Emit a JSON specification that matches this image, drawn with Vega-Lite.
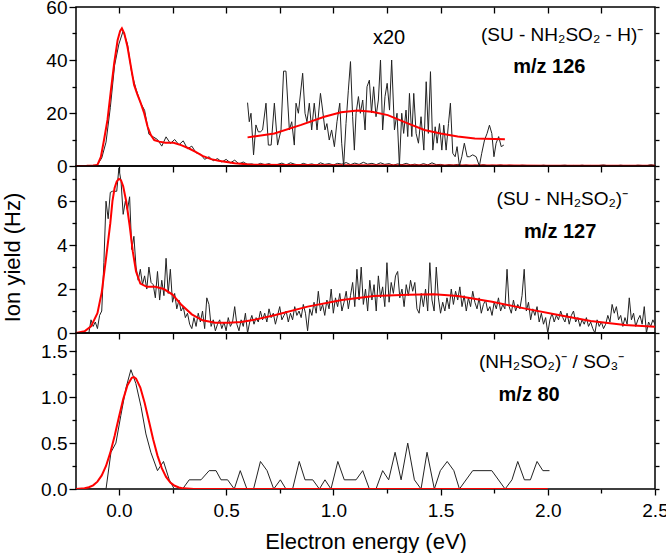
{
"$schema":"https://vega.github.io/schema/vega-lite/v6.json",
"padding":{"left":0,"top":-3,"right":0,"bottom":0},
"spacing":0,
"bounds":"flush",
"config":{"font":"Liberation Sans","view":{"stroke":"#000","strokeWidth":1.5},"axis":{"domain":false,"grid":false,"tickColor":"#000","tickWidth":1.3,"labelColor":"#000","labelFont":"Liberation Sans","labelFlush":false,"labelOverlap":false,"titleFont":"Liberation Sans","titleFontWeight":"normal","titleColor":"#000"}},
"datasets":{
"p1black":[{"e":-0.2,"v":0},{"e":-0.18,"v":0},{"e":-0.16,"v":0},{"e":-0.14,"v":0},{"e":-0.12,"v":0},{"e":-0.1,"v":0.5},{"e":-0.08,"v":3},{"e":-0.06,"v":9},{"e":-0.04,"v":22},{"e":-0.02,"v":38},{"e":0,"v":46},{"e":0.02,"v":51},{"e":0.04,"v":46},{"e":0.06,"v":35},{"e":0.08,"v":29},{"e":0.1,"v":24},{"e":0.12,"v":21},{"e":0.14,"v":12},{"e":0.16,"v":11},{"e":0.18,"v":10},{"e":0.2,"v":7.5},{"e":0.22,"v":11},{"e":0.24,"v":8.5},{"e":0.26,"v":10},{"e":0.28,"v":8},{"e":0.3,"v":9.5},{"e":0.32,"v":6.5},{"e":0.34,"v":7.5},{"e":0.36,"v":5},{"e":0.38,"v":4.5},{"e":0.4,"v":2.5},{"e":0.42,"v":3.5},{"e":0.44,"v":2},{"e":0.46,"v":2.8},{"e":0.48,"v":1.5},{"e":0.5,"v":2.5},{"e":0.52,"v":1.2},{"e":0.54,"v":2.2},{"e":0.56,"v":0.8},{"e":0.58,"v":1.5},{"e":0.6,"v":0.6},{"e":0.62,"v":0.8},{"e":0.64,"v":0.3},{"e":0.66,"v":1.0},{"e":0.68,"v":0.5},{"e":0.7,"v":0.9},{"e":0.72,"v":0.2},{"e":0.74,"v":0.6},{"e":0.76,"v":1.1},{"e":0.78,"v":0.4},{"e":0.8,"v":1.2},{"e":0.82,"v":0.7},{"e":0.84,"v":0.3},{"e":0.86,"v":1.0},{"e":0.88,"v":0.5},{"e":0.9,"v":0.8},{"e":0.92,"v":0.3},{"e":0.94,"v":1.2},{"e":0.96,"v":0.6},{"e":0.98,"v":0.9},{"e":1.0,"v":0.4},{"e":1.02,"v":1.0},{"e":1.04,"v":0.7},{"e":1.06,"v":1.3},{"e":1.08,"v":0.5},{"e":1.1,"v":1.1},{"e":1.12,"v":0.6},{"e":1.14,"v":1.4},{"e":1.16,"v":0.7},{"e":1.18,"v":1.0},{"e":1.2,"v":0.5},{"e":1.22,"v":1.2},{"e":1.24,"v":0.6},{"e":1.26,"v":0.9},{"e":1.28,"v":0.3},{"e":1.3,"v":0.8},{"e":1.32,"v":0.5},{"e":1.34,"v":1.0},{"e":1.36,"v":0.4},{"e":1.38,"v":0.7},{"e":1.4,"v":0.3},{"e":1.42,"v":0.9},{"e":1.44,"v":0.4},{"e":1.46,"v":1.2},{"e":1.48,"v":0.5},{"e":1.5,"v":0.6},{"e":1.52,"v":0.2},{"e":1.54,"v":0.5},{"e":1.56,"v":0.3},{"e":1.58,"v":0.6},{"e":1.6,"v":0.2},{"e":1.62,"v":0.4},{"e":1.64,"v":0.1},{"e":1.66,"v":0.3},{"e":1.68,"v":0.2},{"e":1.7,"v":0.5},{"e":1.72,"v":0.1},{"e":1.74,"v":0.3},{"e":1.76,"v":0.2},{"e":1.78,"v":0.4},{"e":1.8,"v":0.1},{"e":1.82,"v":0.3},{"e":1.84,"v":0.2},{"e":1.86,"v":0.1},{"e":1.88,"v":0.3},{"e":1.9,"v":0.2},{"e":1.92,"v":0.1},{"e":1.94,"v":0.2},{"e":1.96,"v":0.1},{"e":1.98,"v":0.3},{"e":2.0,"v":0.1},{"e":2.02,"v":0.2},{"e":2.04,"v":0.1},{"e":2.06,"v":0.2},{"e":2.08,"v":0.3},{"e":2.1,"v":0.1},{"e":2.12,"v":0.2},{"e":2.14,"v":0.1},{"e":2.16,"v":0.3},{"e":2.18,"v":0.1},{"e":2.2,"v":0.2},{"e":2.22,"v":0.1},{"e":2.24,"v":0.2},{"e":2.26,"v":0.4},{"e":2.28,"v":0.1},{"e":2.3,"v":0.2},{"e":2.32,"v":0.1},{"e":2.34,"v":0.3},{"e":2.36,"v":0.1},{"e":2.38,"v":0.2},{"e":2.4,"v":0.1},{"e":2.42,"v":0.3},{"e":2.44,"v":0.2},{"e":2.46,"v":0.1},{"e":2.48,"v":0.5},{"e":2.5,"v":0.2}],
"p1fit":[{"e":-0.2,"v":0},{"e":-0.15,"v":0.05},{"e":-0.12,"v":0.15},{"e":-0.1,"v":0.4},{"e":-0.084,"v":3.4},{"e":-0.069,"v":10},{"e":-0.053,"v":17.5},{"e":-0.037,"v":28.7},{"e":-0.022,"v":38.7},{"e":-0.006,"v":47.5},{"e":0.006,"v":51},{"e":0.014,"v":52},{"e":0.025,"v":50.1},{"e":0.04,"v":45},{"e":0.056,"v":37.5},{"e":0.071,"v":30.6},{"e":0.087,"v":26.8},{"e":0.102,"v":23.7},{"e":0.118,"v":19.9},{"e":0.134,"v":14.8},{"e":0.149,"v":11.7},{"e":0.165,"v":9.8},{"e":0.188,"v":9.2},{"e":0.216,"v":8.8},{"e":0.255,"v":8.8},{"e":0.29,"v":7.9},{"e":0.325,"v":6.7},{"e":0.36,"v":5.2},{"e":0.39,"v":3.8},{"e":0.43,"v":2.6},{"e":0.465,"v":2.0},{"e":0.54,"v":1.0},{"e":0.62,"v":0.5},{"e":0.8,"v":0.35},{"e":1.0,"v":0.3},{"e":1.5,"v":0.2},{"e":2.0,"v":0.12},{"e":2.5,"v":0.08}],
"p1x20":[{"e":0.6,"v":23.9},{"e":0.608,"v":16.7},{"e":0.616,"v":19.9},{"e":0.628,"v":4.2},{"e":0.639,"v":15.5},{"e":0.65,"v":12.9},{"e":0.66,"v":12.9},{"e":0.67,"v":13.6},{"e":0.686,"v":23.7},{"e":0.697,"v":7.9},{"e":0.71,"v":7.9},{"e":0.725,"v":23.7},{"e":0.74,"v":7.9},{"e":0.756,"v":13.6},{"e":0.768,"v":35.8},{"e":0.779,"v":35.8},{"e":0.795,"v":13.6},{"e":0.806,"v":16.7},{"e":0.818,"v":7.9},{"e":0.826,"v":23.7},{"e":0.837,"v":19.9},{"e":0.857,"v":35},{"e":0.868,"v":19.9},{"e":0.877,"v":16.7},{"e":0.888,"v":23.7},{"e":0.899,"v":13.6},{"e":0.911,"v":23.7},{"e":0.924,"v":13.6},{"e":0.94,"v":27.4},{"e":0.95,"v":21.1},{"e":0.961,"v":13.6},{"e":0.97,"v":16},{"e":0.981,"v":9.8},{"e":0.992,"v":13.6},{"e":1.005,"v":7.3},{"e":1.017,"v":16.7},{"e":1.03,"v":23.7},{"e":1.039,"v":8.6},{"e":1.048,"v":0},{"e":1.059,"v":16},{"e":1.07,"v":28.6},{"e":1.08,"v":39.4},{"e":1.09,"v":18.6},{"e":1.098,"v":6},{"e":1.106,"v":19.9},{"e":1.117,"v":26.2},{"e":1.126,"v":19.9},{"e":1.137,"v":24.9},{"e":1.148,"v":13.6},{"e":1.157,"v":29.9},{"e":1.168,"v":32.4},{"e":1.178,"v":20},{"e":1.188,"v":29.9},{"e":1.199,"v":18.6},{"e":1.21,"v":24.9},{"e":1.22,"v":40},{"e":1.23,"v":13.6},{"e":1.241,"v":26.2},{"e":1.251,"v":31.2},{"e":1.262,"v":21.1},{"e":1.272,"v":40},{"e":1.285,"v":13.6},{"e":1.297,"v":19.9},{"e":1.308,"v":0},{"e":1.319,"v":19.9},{"e":1.328,"v":12.3},{"e":1.339,"v":21.1},{"e":1.347,"v":11.1},{"e":1.355,"v":27.4},{"e":1.366,"v":11.1},{"e":1.375,"v":27.4},{"e":1.386,"v":12.3},{"e":1.397,"v":8.6},{"e":1.409,"v":18.6},{"e":1.422,"v":6},{"e":1.433,"v":31.8},{"e":1.443,"v":12.3},{"e":1.453,"v":35.6},{"e":1.464,"v":6},{"e":1.475,"v":14.8},{"e":1.484,"v":8.6},{"e":1.495,"v":16},{"e":1.506,"v":6},{"e":1.515,"v":15.4},{"e":1.526,"v":6},{"e":1.537,"v":16},{"e":1.546,"v":23.7},{"e":1.557,"v":4.8},{"e":1.568,"v":3.5},{"e":1.577,"v":7.3},{"e":1.588,"v":0},{"e":1.599,"v":3.5},{"e":1.611,"v":8.6},{"e":1.624,"v":3.5},{"e":1.635,"v":3.5},{"e":1.65,"v":4.2},{"e":1.666,"v":3.5},{"e":1.681,"v":0},{"e":1.692,"v":4.8},{"e":1.705,"v":9.8},{"e":1.717,"v":12.3},{"e":1.728,"v":15.4},{"e":1.739,"v":12.3},{"e":1.749,"v":3.5},{"e":1.759,"v":8.6},{"e":1.771,"v":11.1},{"e":1.783,"v":7.3},{"e":1.795,"v":7.9}],
"p1x20fit":[{"e":0.6,"v":10.8},{"e":0.725,"v":12.3},{"e":0.85,"v":15.5},{"e":0.958,"v":18.6},{"e":1.036,"v":20.3},{"e":1.113,"v":20.9},{"e":1.18,"v":20.5},{"e":1.254,"v":19.2},{"e":1.347,"v":16.1},{"e":1.425,"v":13.6},{"e":1.5,"v":12.3},{"e":1.58,"v":11.1},{"e":1.66,"v":10.4},{"e":1.8,"v":10.1}],
"p2black":[{"e":-0.2,"v":0},{"e":-0.19,"v":0},{"e":-0.18,"v":0},{"e":-0.17,"v":0},{"e":-0.16,"v":0},{"e":-0.15,"v":0},{"e":-0.14,"v":0},{"e":-0.13,"v":0.6},{"e":-0.12,"v":0.3},{"e":-0.11,"v":0.5},{"e":-0.1,"v":0.2},{"e":-0.09,"v":0.8},{"e":-0.08,"v":1.0},{"e":-0.07,"v":3.2},{"e":-0.06,"v":6.0},{"e":-0.05,"v":5.2},{"e":-0.04,"v":6.4},{"e":-0.03,"v":6.45},{"e":-0.02,"v":6.45},{"e":-0.01,"v":6.45},{"e":0,"v":7.5},{"e":0.01,"v":6.9},{"e":0.02,"v":5.4},{"e":0.03,"v":6.0},{"e":0.04,"v":5.6},{"e":0.05,"v":6.2},{"e":0.06,"v":3.8},{"e":0.07,"v":4.4},{"e":0.08,"v":3.0},{"e":0.09,"v":2.4},{"e":0.1,"v":2.9},{"e":0.11,"v":2.2},{"e":0.12,"v":2.6},{"e":0.13,"v":2.0},{"e":0.14,"v":3.0},{"e":0.15,"v":2.3},{"e":0.16,"v":2.2},{"e":0.17,"v":1.6},{"e":0.18,"v":2.8},{"e":0.19,"v":1.5},{"e":0.2,"v":2.4},{"e":0.21,"v":1.7},{"e":0.22,"v":3.4},{"e":0.23,"v":1.8},{"e":0.24,"v":2.9},{"e":0.25,"v":1.4},{"e":0.26,"v":1.8},{"e":0.27,"v":1.1},{"e":0.28,"v":1.5},{"e":0.29,"v":1.0},{"e":0.3,"v":1.2},{"e":0.31,"v":0.7},{"e":0.32,"v":0.9},{"e":0.33,"v":0.4},{"e":0.34,"v":0.2},{"e":0.35,"v":0.7},{"e":0.36,"v":0.3},{"e":0.37,"v":0.9},{"e":0.38,"v":0.5},{"e":0.39,"v":1.0},{"e":0.4,"v":0.2},{"e":0.41,"v":1.6},{"e":0.42,"v":1.3},{"e":0.43,"v":0.3},{"e":0.44,"v":0.6},{"e":0.45,"v":0.1},{"e":0.46,"v":0.4},{"e":0.47,"v":0.6},{"e":0.48,"v":0.2},{"e":0.49,"v":0.5},{"e":0.5,"v":0.1},{"e":0.51,"v":0.7},{"e":0.52,"v":0.3},{"e":0.53,"v":0.5},{"e":0.54,"v":1.2},{"e":0.55,"v":0.4},{"e":0.56,"v":0.1},{"e":0.57,"v":0.6},{"e":0.58,"v":0.3},{"e":0.59,"v":0.9},{"e":0.6,"v":0},{"e":0.61,"v":0.5},{"e":0.62,"v":0.8},{"e":0.63,"v":0.4},{"e":0.64,"v":0.7},{"e":0.65,"v":0.5},{"e":0.66,"v":1.0},{"e":0.67,"v":0.6},{"e":0.68,"v":0.9},{"e":0.69,"v":0.5},{"e":0.7,"v":1.1},{"e":0.71,"v":0.7},{"e":0.72,"v":0.9},{"e":0.73,"v":0.4},{"e":0.74,"v":0.8},{"e":0.75,"v":1.2},{"e":0.76,"v":0.6},{"e":0.77,"v":0.8},{"e":0.78,"v":1.0},{"e":0.79,"v":0.5},{"e":0.8,"v":0.9},{"e":0.81,"v":0.6},{"e":0.82,"v":1.2},{"e":0.83,"v":0.8},{"e":0.84,"v":1.0},{"e":0.85,"v":0.7},{"e":0.86,"v":1.3},{"e":0.87,"v":0.9},{"e":0.88,"v":0.1},{"e":0.89,"v":1.1},{"e":0.9,"v":0.8},{"e":0.91,"v":1.4},{"e":0.92,"v":0.9},{"e":0.93,"v":1.9},{"e":0.94,"v":1.0},{"e":0.95,"v":1.3},{"e":0.96,"v":0.8},{"e":0.97,"v":1.5},{"e":0.98,"v":1.1},{"e":0.99,"v":2.0},{"e":1.0,"v":0.9},{"e":1.01,"v":1.6},{"e":1.02,"v":1.2},{"e":1.03,"v":1.8},{"e":1.04,"v":1.0},{"e":1.05,"v":1.4},{"e":1.06,"v":1.9},{"e":1.07,"v":1.1},{"e":1.08,"v":1.7},{"e":1.09,"v":2.3},{"e":1.1,"v":1.2},{"e":1.11,"v":2.9},{"e":1.12,"v":1.5},{"e":1.13,"v":3.0},{"e":1.14,"v":1.3},{"e":1.15,"v":2.0},{"e":1.16,"v":1.0},{"e":1.17,"v":2.4},{"e":1.18,"v":1.5},{"e":1.19,"v":2.2},{"e":1.2,"v":1.0},{"e":1.21,"v":2.6},{"e":1.22,"v":1.6},{"e":1.23,"v":2.1},{"e":1.24,"v":1.2},{"e":1.25,"v":3.2},{"e":1.26,"v":1.4},{"e":1.27,"v":2.3},{"e":1.28,"v":1.8},{"e":1.29,"v":2.6},{"e":1.3,"v":2.8},{"e":1.31,"v":1.6},{"e":1.32,"v":2.0},{"e":1.33,"v":1.2},{"e":1.34,"v":2.2},{"e":1.35,"v":1.7},{"e":1.36,"v":2.4},{"e":1.37,"v":1.9},{"e":1.38,"v":2.3},{"e":1.39,"v":1.1},{"e":1.4,"v":0.9},{"e":1.41,"v":1.8},{"e":1.42,"v":1.2},{"e":1.43,"v":2.0},{"e":1.44,"v":1.0},{"e":1.45,"v":3.2},{"e":1.46,"v":1.5},{"e":1.47,"v":1.0},{"e":1.48,"v":3.0},{"e":1.49,"v":1.6},{"e":1.5,"v":0.9},{"e":1.51,"v":1.4},{"e":1.52,"v":1.0},{"e":1.53,"v":1.6},{"e":1.54,"v":1.1},{"e":1.55,"v":2.0},{"e":1.56,"v":1.3},{"e":1.57,"v":1.9},{"e":1.58,"v":1.5},{"e":1.59,"v":2.1},{"e":1.6,"v":1.2},{"e":1.61,"v":1.7},{"e":1.62,"v":1.0},{"e":1.63,"v":1.6},{"e":1.64,"v":1.2},{"e":1.65,"v":1.9},{"e":1.66,"v":1.4},{"e":1.67,"v":1.1},{"e":1.68,"v":1.6},{"e":1.69,"v":0.9},{"e":1.7,"v":1.3},{"e":1.71,"v":1.5},{"e":1.72,"v":1.0},{"e":1.73,"v":1.2},{"e":1.74,"v":0.8},{"e":1.75,"v":1.4},{"e":1.76,"v":1.1},{"e":1.77,"v":1.6},{"e":1.78,"v":1.0},{"e":1.79,"v":1.3},{"e":1.8,"v":1.1},{"e":1.81,"v":2.9},{"e":1.82,"v":1.2},{"e":1.83,"v":0.9},{"e":1.84,"v":1.5},{"e":1.85,"v":1.0},{"e":1.86,"v":1.3},{"e":1.87,"v":1.1},{"e":1.88,"v":1.7},{"e":1.89,"v":2.9},{"e":1.9,"v":1.0},{"e":1.91,"v":1.4},{"e":1.92,"v":0.6},{"e":1.93,"v":1.1},{"e":1.94,"v":0.8},{"e":1.95,"v":1.2},{"e":1.96,"v":0.5},{"e":1.97,"v":0.9},{"e":1.98,"v":0.4},{"e":1.99,"v":0.7},{"e":2.0,"v":0},{"e":2.01,"v":0.6},{"e":2.02,"v":0.9},{"e":2.03,"v":0.5},{"e":2.04,"v":0.8},{"e":2.05,"v":0.6},{"e":2.06,"v":1.0},{"e":2.07,"v":0.7},{"e":2.08,"v":0.5},{"e":2.09,"v":0.9},{"e":2.1,"v":0.4},{"e":2.11,"v":0.8},{"e":2.12,"v":1.0},{"e":2.13,"v":0.5},{"e":2.14,"v":0.7},{"e":2.15,"v":0.3},{"e":2.16,"v":0.6},{"e":2.17,"v":0.4},{"e":2.18,"v":0.7},{"e":2.19,"v":0.3},{"e":2.2,"v":0.5},{"e":2.21,"v":0.2},{"e":2.22,"v":0},{"e":2.23,"v":0.6},{"e":2.24,"v":0.3},{"e":2.25,"v":0.5},{"e":2.26,"v":0.2},{"e":2.27,"v":0.4},{"e":2.28,"v":0.8},{"e":2.29,"v":0.5},{"e":2.3,"v":1.3},{"e":2.31,"v":0.9},{"e":2.32,"v":1.2},{"e":2.33,"v":0.6},{"e":2.34,"v":0.8},{"e":2.35,"v":0.3},{"e":2.36,"v":0.7},{"e":2.37,"v":0.4},{"e":2.38,"v":1.6},{"e":2.39,"v":0.6},{"e":2.4,"v":0.9},{"e":2.41,"v":0.3},{"e":2.42,"v":0.6},{"e":2.43,"v":0.8},{"e":2.44,"v":0.4},{"e":2.45,"v":1.2},{"e":2.46,"v":0},{"e":2.47,"v":0.5},{"e":2.48,"v":0.3},{"e":2.49,"v":0.6},{"e":2.5,"v":0.4}],
"p2fit":[{"e":-0.2,"v":0},{"e":-0.16,"v":0.08},{"e":-0.13,"v":0.3},{"e":-0.1,"v":0.9},{"e":-0.08,"v":1.85},{"e":-0.06,"v":3.4},{"e":-0.04,"v":5.0},{"e":-0.03,"v":6.0},{"e":-0.02,"v":6.6},{"e":-0.01,"v":6.9},{"e":0,"v":7.02},{"e":0.01,"v":6.95},{"e":0.02,"v":6.68},{"e":0.035,"v":5.95},{"e":0.05,"v":4.9},{"e":0.065,"v":3.7},{"e":0.08,"v":2.8},{"e":0.1,"v":2.25},{"e":0.13,"v":2.1},{"e":0.17,"v":2.1},{"e":0.21,"v":2.0},{"e":0.25,"v":1.75},{"e":0.29,"v":1.3},{"e":0.34,"v":0.85},{"e":0.39,"v":0.58},{"e":0.45,"v":0.47},{"e":0.51,"v":0.47},{"e":0.57,"v":0.5},{"e":0.64,"v":0.62},{"e":0.73,"v":0.82},{"e":0.88,"v":1.2},{"e":1.04,"v":1.5},{"e":1.19,"v":1.68},{"e":1.35,"v":1.74},{"e":1.47,"v":1.76},{"e":1.58,"v":1.68},{"e":1.74,"v":1.42},{"e":1.89,"v":1.12},{"e":2.05,"v":0.82},{"e":2.2,"v":0.55},{"e":2.36,"v":0.36},{"e":2.5,"v":0.29}],
"p3black":[{"e":-0.2,"v":0},{"e":-0.1,"v":0},{"e":-0.06,"v":0},{"e":-0.037,"v":0.4},{"e":-0.014,"v":0.5},{"e":0.009,"v":0.8},{"e":0.033,"v":1.1},{"e":0.056,"v":1.3},{"e":0.079,"v":1.15},{"e":0.103,"v":0.9},{"e":0.126,"v":0.6},{"e":0.149,"v":0.4},{"e":0.18,"v":0.2},{"e":0.208,"v":0.3},{"e":0.235,"v":0.1},{"e":0.258,"v":0},{"e":0.297,"v":0},{"e":0.328,"v":0.1},{"e":0.383,"v":0.1},{"e":0.421,"v":0.2},{"e":0.453,"v":0.2},{"e":0.476,"v":0.1},{"e":0.507,"v":0.1},{"e":0.538,"v":0},{"e":0.566,"v":0.2},{"e":0.597,"v":0},{"e":0.628,"v":0},{"e":0.66,"v":0.3},{"e":0.691,"v":0.2},{"e":0.722,"v":0},{"e":0.753,"v":0.1},{"e":0.779,"v":0},{"e":0.81,"v":0},{"e":0.841,"v":0.3},{"e":0.868,"v":0.1},{"e":0.904,"v":0.1},{"e":0.935,"v":0},{"e":0.961,"v":0.1},{"e":0.989,"v":0},{"e":1.021,"v":0.3},{"e":1.051,"v":0.1},{"e":1.106,"v":0.1},{"e":1.137,"v":0.2},{"e":1.168,"v":0},{"e":1.199,"v":0},{"e":1.23,"v":0.2},{"e":1.258,"v":0.1},{"e":1.288,"v":0.4},{"e":1.316,"v":0.1},{"e":1.347,"v":0.5},{"e":1.378,"v":0.1},{"e":1.409,"v":0},{"e":1.437,"v":0.4},{"e":1.471,"v":0},{"e":1.499,"v":0.2},{"e":1.531,"v":0.3},{"e":1.562,"v":0.2},{"e":1.588,"v":0},{"e":1.65,"v":0.2},{"e":1.739,"v":0.2},{"e":1.801,"v":0},{"e":1.833,"v":0.1},{"e":1.86,"v":0.3},{"e":1.891,"v":0.1},{"e":1.919,"v":0.1},{"e":1.95,"v":0.3},{"e":1.977,"v":0.2},{"e":2.008,"v":0.2}],
"p3fit":[{"e":-0.2,"v":0},{"e":-0.16,"v":0.008},{"e":-0.14,"v":0.019},{"e":-0.12,"v":0.04},{"e":-0.1,"v":0.08},{"e":-0.08,"v":0.148},{"e":-0.06,"v":0.251},{"e":-0.04,"v":0.396},{"e":-0.02,"v":0.578},{"e":0,"v":0.781},{"e":0.02,"v":0.977},{"e":0.04,"v":1.131},{"e":0.06,"v":1.212},{"e":0.07,"v":1.22},{"e":0.08,"v":1.203},{"e":0.1,"v":1.105},{"e":0.12,"v":0.94},{"e":0.14,"v":0.74},{"e":0.16,"v":0.539},{"e":0.18,"v":0.364},{"e":0.2,"v":0.227},{"e":0.22,"v":0.131},{"e":0.24,"v":0.07},{"e":0.26,"v":0.035},{"e":0.28,"v":0.016},{"e":0.3,"v":0.007},{"e":0.35,"v":0},{"e":1.0,"v":0},{"e":2.0,"v":0}]
},
"vconcat":[
{
"width":579,"height":159,
"resolve":{"axis":{"x":"independent","y":"independent"}},
"layer":[
{"data":{"name":"p1black"},"mark":{"type":"line","color":"#222","strokeWidth":1,"clip":true},
"encoding":{"x":{"field":"e","type":"quantitative","scale":{"domain":[-0.2,2.5],"nice":false,"zero":false},"axis":null},
"y":{"field":"v","type":"quantitative","scale":{"domain":[0,60],"nice":false},"axis":{"orient":"left","values":[0,20,40,60],"tickSize":7,"labelPadding":2,"labelFontSize":19,"title":null}}}},
{"data":{"name":"p1fit"},"mark":{"type":"line","color":"#ff0000","strokeWidth":2,"clip":true},
"encoding":{"x":{"field":"e","type":"quantitative","scale":{"domain":[-0.2,2.5],"nice":false,"zero":false},"axis":{"orient":"top","values":[0,0.25,0.5,0.75,1,1.25,1.5,1.75,2,2.25],"labels":false,"tickSize":6,"offset":-6,"title":null}},
"y":{"field":"v","type":"quantitative","scale":{"domain":[0,60],"nice":false},"axis":{"orient":"right","values":[0,10,20,30,40,50,60],"labels":false,"tickSize":4,"title":null}}}},
{"data":{"name":"p1x20"},"mark":{"type":"line","color":"#222","strokeWidth":1,"clip":true},
"encoding":{"x":{"field":"e","type":"quantitative","scale":{"domain":[-0.2,2.5],"nice":false,"zero":false},"axis":null},
"y":{"field":"v","type":"quantitative","scale":{"domain":[0,60],"nice":false},"axis":{"orient":"left","values":[10,30,50],"labels":false,"tickSize":4,"title":null}}}},
{"data":{"name":"p1x20fit"},"mark":{"type":"line","color":"#ff0000","strokeWidth":2,"clip":true},
"encoding":{"x":{"field":"e","type":"quantitative","scale":{"domain":[-0.2,2.5],"nice":false,"zero":false},"axis":null},
"y":{"field":"v","type":"quantitative","scale":{"domain":[0,60],"nice":false},"axis":null}}},
{"data":{"values":[{"t":"x20"}]},"mark":{"type":"text","fontSize":20,"align":"center","baseline":"middle","color":"#000"},
"encoding":{"x":{"datum":1.26,"type":"quantitative","axis":null},"y":{"datum":48.3,"type":"quantitative","axis":null},"text":{"field":"t"}}},
{"data":{"values":[{"t":"(SU - NH₂SO₂ - H)⁻"}]},"mark":{"type":"text","fontSize":19,"align":"right","baseline":"middle","color":"#000"},
"encoding":{"x":{"datum":2.445,"type":"quantitative","axis":null},"y":{"datum":49.4,"type":"quantitative","axis":null},"text":{"field":"t"}}},
{"data":{"values":[{"t":"m/z 126"}]},"mark":{"type":"text","fontSize":20,"fontWeight":"bold","align":"center","baseline":"middle","color":"#000"},
"encoding":{"x":{"datum":2.007,"type":"quantitative","axis":null},"y":{"datum":37.4,"type":"quantitative","axis":null},"text":{"field":"t"}}}
]
},
{
"width":579,"height":167,
"resolve":{"axis":{"x":"independent","y":"independent"}},
"layer":[
{"data":{"name":"p2black"},"mark":{"type":"line","color":"#222","strokeWidth":1,"clip":true},
"encoding":{"x":{"field":"e","type":"quantitative","scale":{"domain":[-0.2,2.5],"nice":false,"zero":false},"axis":null},
"y":{"field":"v","type":"quantitative","scale":{"domain":[0,7.6],"nice":false},"axis":{"orient":"left","values":[0,2,4,6],"tickSize":7,"labelPadding":2,"labelFontSize":19,"title":"Ion yield (Hz)","titleFontSize":22,"titleX":-64,"titleY":91,"titleBaseline":"middle","titleAngle":-90,"titleAlign":"center"}}}},
{"data":{"name":"p2fit"},"mark":{"type":"line","color":"#ff0000","strokeWidth":2,"clip":true},
"encoding":{"x":{"field":"e","type":"quantitative","scale":{"domain":[-0.2,2.5],"nice":false,"zero":false},"axis":{"orient":"top","values":[0,0.25,0.5,0.75,1,1.25,1.5,1.75,2,2.25],"labels":false,"tickSize":6,"offset":-6,"title":null}},
"y":{"field":"v","type":"quantitative","scale":{"domain":[0,7.6],"nice":false},"axis":{"orient":"right","values":[0,1,2,3,4,5,6,7],"labels":false,"tickSize":4,"title":null}}}},
{"data":{"values":[{"t":"(SU - NH₂SO₂)⁻"}]},"mark":{"type":"text","fontSize":19,"align":"right","baseline":"middle","color":"#000"},
"encoding":{"x":{"datum":2.375,"type":"quantitative","axis":null},"y":{"datum":6.09,"type":"quantitative","axis":{"orient":"left","values":[1,3,5,7],"labels":false,"tickSize":4,"title":null}},"text":{"field":"t"}}},
{"data":{"values":[{"t":"m/z 127"}]},"mark":{"type":"text","fontSize":20,"fontWeight":"bold","align":"center","baseline":"middle","color":"#000"},
"encoding":{"x":{"datum":2.058,"type":"quantitative","axis":null},"y":{"datum":4.59,"type":"quantitative","axis":null},"text":{"field":"t"}}}
]
},
{
"width":579,"height":156,
"resolve":{"axis":{"x":"independent","y":"independent"}},
"layer":[
{"data":{"name":"p3black"},"mark":{"type":"line","color":"#222","strokeWidth":1,"clip":true},
"encoding":{"x":{"field":"e","type":"quantitative","scale":{"domain":[-0.2,2.5],"nice":false,"zero":false},"axis":{"orient":"bottom","values":[0,0.5,1,1.5,2,2.5],"format":".1f","tickSize":6,"labelPadding":6,"labelFontSize":19,"title":"Electron energy (eV)","titleFontSize":22,"titleY":52,"titleBaseline":"middle"}},
"y":{"field":"v","type":"quantitative","scale":{"domain":[0,1.7],"nice":false},"axis":{"orient":"left","values":[0,0.5,1,1.5],"format":".1f","tickSize":7,"labelPadding":2,"labelFontSize":19,"title":null}}}},
{"data":{"name":"p3fit"},"mark":{"type":"line","color":"#ff0000","strokeWidth":2,"clip":true},
"encoding":{"x":{"field":"e","type":"quantitative","scale":{"domain":[-0.2,2.5],"nice":false,"zero":false},"axis":{"orient":"top","values":[0,0.25,0.5,0.75,1,1.25,1.5,1.75,2,2.25],"labels":false,"tickSize":6,"offset":-6,"title":null}},
"y":{"field":"v","type":"quantitative","scale":{"domain":[0,1.7],"nice":false},"axis":{"orient":"right","values":[0,0.25,0.5,0.75,1,1.25,1.5],"labels":false,"tickSize":4,"title":null}}}},
{"data":{"values":[{"t":"(NH₂SO₂)⁻ / SO₃⁻"}]},"mark":{"type":"text","fontSize":19,"align":"right","baseline":"middle","color":"#000"},
"encoding":{"x":{"datum":2.357,"type":"quantitative","axis":{"orient":"bottom","values":[0.25,0.75,1.25,1.75,2.25],"labels":false,"tickSize":4,"title":null}},"y":{"datum":1.38,"type":"quantitative","axis":{"orient":"left","values":[0.25,0.75,1.25],"labels":false,"tickSize":4,"title":null}},"text":{"field":"t"}}},
{"data":{"values":[{"t":"m/z 80"}]},"mark":{"type":"text","fontSize":20,"fontWeight":"bold","align":"center","baseline":"middle","color":"#000"},
"encoding":{"x":{"datum":1.913,"type":"quantitative","axis":null},"y":{"datum":1.02,"type":"quantitative","axis":null},"text":{"field":"t"}}}
]
}
]
}
